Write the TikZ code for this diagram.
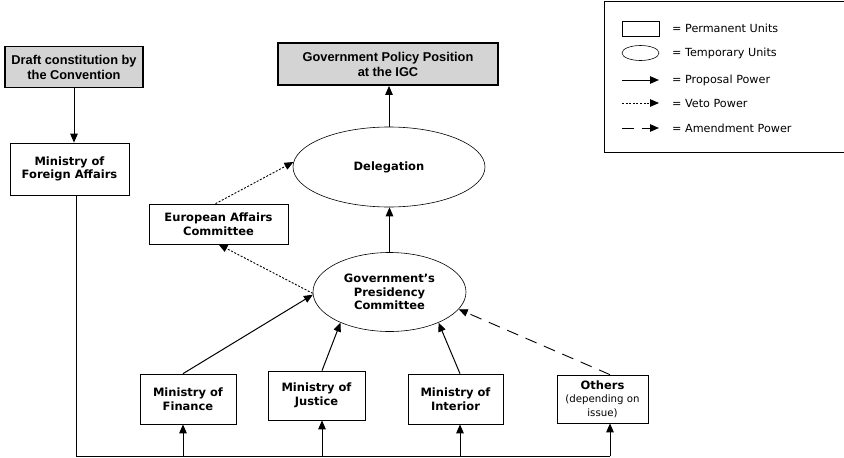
\documentclass[tikz,border=0pt]{standalone}
\usepackage{fontspec}
\setmainfont{DejaVu Sans}
\newfontfamily\arialfont{Liberation Sans}
\usetikzlibrary{arrows.meta,shapes.geometric}
\definecolor{boxgray}{RGB}{212,212,212}
\tikzset{
  every node/.style={inner sep=1pt, align=center},
  perm/.style={draw, line width=0.7pt, rectangle, font=\fontsize{11.5}{13.5}\selectfont\bfseries},
  temp/.style={draw, line width=0.6pt, ellipse, font=\fontsize{11.5}{13.5}\selectfont\bfseries},
  graybox/.style={draw, line width=1.8pt, fill=boxgray, rectangle, font=\arialfont\fontsize{12.8}{15}\selectfont\bfseries},
  tip/.style={-{Triangle[length=9pt,width=7.5pt]}},
  prop/.style={tip, line width=1pt},
  veto/.style={tip, line width=0.9pt, dash pattern=on 2pt off 1.6pt},
  amend/.style={tip, line width=0.9pt, dash pattern=on 12pt off 8pt},
  legtext/.style={anchor=west, font=\fontsize{11.2}{13}\selectfont},
}
\newcommand{\smallreg}{\mdseries\fontsize{10.2}{12}\selectfont}
\begin{document}
\begin{tikzpicture}[x=1pt,y=-1pt]
\useasboundingbox (0,0) rectangle (844,458);
% main nodes
\node[graybox, minimum width=138pt, minimum height=41pt] (draft) at (74,67) {Draft constitution by\\the Convention};
\node[graybox, minimum width=220pt, minimum height=42pt] (ipol) at (388,64) {Government Policy Position\\at the IGC};
\node[perm, minimum width=119pt, minimum height=52pt] (mfa) at (69.5,169) {Ministry of\\Foreign Affairs};
\node[temp, minimum width=192pt, minimum height=80pt] (deleg) at (389,167) {Delegation};
\node[perm, minimum width=139pt, minimum height=40pt] (eac) at (218.5,224) {European Affairs\\Committee};
\node[temp, minimum width=153pt, minimum height=79pt] (gpc) at (389.5,292) {Government's\\Presidency\\Committee};
\node[perm, minimum width=96pt, minimum height=50pt] (fin) at (188,399) {Ministry of\\Finance};
\node[perm, minimum width=97pt, minimum height=49pt] (jus) at (316.5,395.5) {Ministry of\\Justice};
\node[perm, minimum width=95pt, minimum height=50pt] (int) at (455.5,399) {Ministry of\\Interior};
\node[perm, minimum width=91pt, minimum height=48pt] (oth) at (602.5,399) {Others\\{\smallreg (depending on}\\{\smallreg issue)}};
% bus coordinates
\coordinate (bus0) at (76,456);
\coordinate (b1) at (183,456);
\coordinate (b2) at (322,456);
\coordinate (b3) at (460,456);
\coordinate (b4) at (610,456);
% connectors
\draw[prop] (draft.south) -- (draft.south |- mfa.north);
\draw[prop] (deleg.north) -- (deleg.north |- ipol.south);
\draw[prop] (gpc.north) -- (gpc.north |- deleg.south);
\draw[veto] ([xshift=-3pt]eac.north) -- (deleg.177);
\draw[veto] (gpc.181) -- (eac.south);
\draw[prop] (b1 |- fin.north) -- (gpc.182);
\draw[prop] (b2 |- jus.north) -- (gpc.212);
\draw[prop] (b3 |- int.north) -- (gpc.328);
\draw[amend] (b4 |- oth.north) -- (gpc.346);
\draw[line width=1pt] (mfa.south -| bus0) -- (bus0) -- (b4);
\draw[prop] (b1) -- (b1 |- fin.south);
\draw[prop] (b2) -- (b2 |- jus.south);
\draw[prop] (b3) -- (b3 |- int.south);
\draw[prop] (b4) -- (b4 |- oth.south);
% legend
\draw[line width=0.8pt] (850,1) -- (604,1) -- (604,152) -- (850,152);
\node[draw, line width=0.7pt, minimum width=37pt, minimum height=15pt, inner sep=0pt] (lrect) at (640.5,28.5) {};
\node[draw, line width=0.6pt, ellipse, minimum width=37pt, minimum height=15pt, inner sep=0pt] (lell) at (640.5,53) {};
\coordinate (lp0) at (622,80); \coordinate (lp1) at (659,80);
\coordinate (lv0) at (622,103); \coordinate (lv1) at (659,103);
\coordinate (la0) at (622,128); \coordinate (la1) at (659,128);
\draw[prop] (lp0) -- (lp1);
\draw[veto] (lv0) -- (lv1);
\draw[amend] (la0) -- (la1);
\node[legtext] (t1) at (671,28) {= Permanent Units};
\node[legtext] (t2) at (671,53) {= Temporary Units};
\node[legtext] (t3) at (671,80) {= Proposal Power};
\node[legtext] (t4) at (671,103) {= Veto Power};
\node[legtext] (t5) at (671,128) {= Amendment Power};
\end{tikzpicture}
\end{document}
